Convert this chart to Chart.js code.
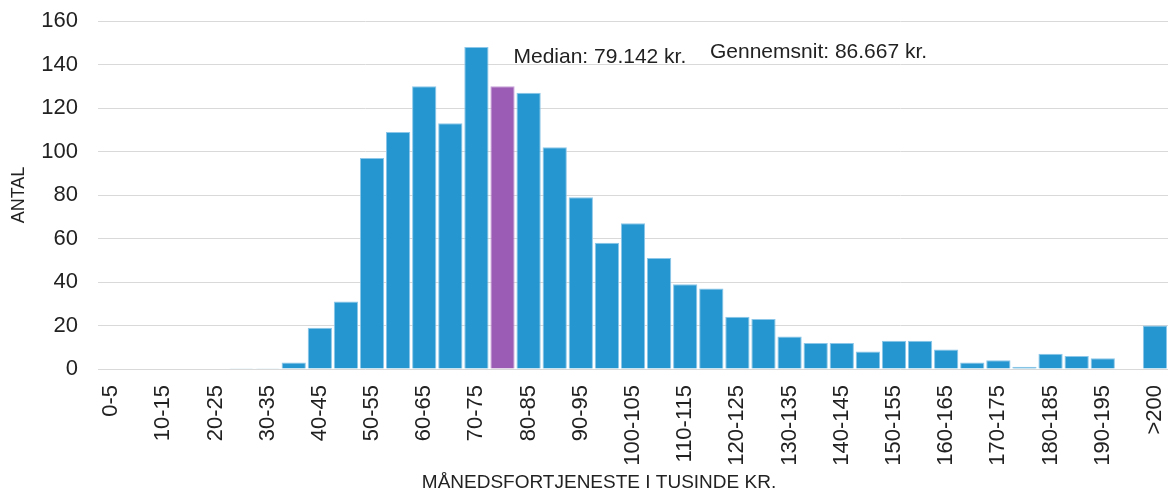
<!DOCTYPE html>
<html>
<head>
<meta charset="utf-8">
<script src="https://cdn.jsdelivr.net/npm/chart.js@4.4.1/dist/chart.umd.min.js"></script>
<style>
  html, body { margin: 0; padding: 0; background: #fff; }
  #wrap { width: 1168px; height: 494px; position: relative; }
</style>
</head>
<body>
<div id="wrap"><canvas id="c"></canvas></div>
<script>
const categories = ["0-5","5-10","10-15","15-20","20-25","25-30","30-35","35-40","40-45","45-50",
  "50-55","55-60","60-65","65-70","70-75","75-80","80-85","85-90","90-95","95-100",
  "100-105","105-110","110-115","115-120","120-125","125-130","130-135","135-140","140-145","145-150",
  "150-155","155-160","160-165","165-170","170-175","175-180","180-185","185-190","190-195","195-200",">200"];
const counts = [0,0,0,0,0,0.4,0.4,3,19,31,
  97,109,130,113,148,130,127,102,79,58,
  67,51,39,37,24,23,15,12,12,8,
  13,13,9,3,4,1,7,6,5,0,20];
const medianIndex = 15;
const yTicks = [0,20,40,60,80,100,120,140,160];
const annotations = [
  { text: "Median: 79.142 kr.", index: 15, value: 143.3, shift: 0.42 },
  { text: "Gennemsnit: 86.667 kr.", index: 23, value: 145.6, shift: -0.05 }
];
const yTitle = "ANTAL";
const xTitle = "MÅNEDSFORTJENESTE I TUSINDE KR.";

const FONT = "'Liberation Sans', Arial, sans-serif";
const TXT = "#222";

const annotPlugin = {
  id: 'annot',
  afterDraw(chart) {
    const ctx = chart.ctx, xs = chart.scales.x, ys = chart.scales.y;
    const step = xs.getPixelForValue(1) - xs.getPixelForValue(0);
    ctx.save();
    ctx.fillStyle = TXT;
    ctx.font = "21px " + FONT;
    ctx.textBaseline = 'middle';
    ctx.textAlign = 'left';
    annotations.forEach(a => {
      ctx.fillText(a.text, xs.getPixelForValue(a.index) + a.shift * step, ys.getPixelForValue(a.value));
    });
    ctx.font = "19px " + FONT;
    ctx.textAlign = 'center';
    ctx.fillText(xTitle, 599, 483);
    ctx.restore();
  }
};

new Chart(document.getElementById('c'), {
  type: 'bar',
  data: {
    labels: categories,
    datasets: [{
      data: counts,
      backgroundColor: counts.map((v, i) => i === medianIndex ? '#9b5cb5' : '#2596cf'),
      borderColor: counts.map((v, i) => i === medianIndex ? '#c8a2da' : '#8cc6e8'),
      borderWidth: 1,
      categoryPercentage: 1.0,
      barPercentage: 0.93
    }]
  },
  options: {
    responsive: true,
    maintainAspectRatio: false,
    animation: false,
    layout: { padding: { left: 8, right: 0, top: 21, bottom: 0 } },
    plugins: { legend: { display: false }, tooltip: { enabled: false } },
    scales: {
      x: {
        grid: { display: false },
        border: { display: false },
        afterFit: (s) => { s.height = 125; s.paddingLeft = 0; s.paddingRight = 0; },
        ticks: {
          autoSkip: false,
          maxRotation: 90,
          minRotation: 90,
          padding: 8,
          color: TXT,
          font: { family: FONT, size: 22 },
          callback: function(val, idx) { return idx % 2 === 0 ? categories[idx] : ''; }
        }
      },
      y: {
        min: 0,
        max: 160,
        afterBuildTicks: (s) => { s.ticks = yTicks.map(v => ({ value: v })); },
        afterFit: (s) => { s.width = 90; s.paddingTop = 0; s.paddingBottom = 0; },
        grid: { color: '#d9d9d9', lineWidth: 1, drawTicks: false },
        border: { display: false },
        ticks: { padding: 20, color: TXT, font: { family: FONT, size: 22 } },
        title: { display: true, text: yTitle, color: TXT, font: { family: FONT, size: 18 }, padding: { top: 0, bottom: 10 } }
      }
    }
  },
  plugins: [annotPlugin]
});
</script>
</body>
</html>
